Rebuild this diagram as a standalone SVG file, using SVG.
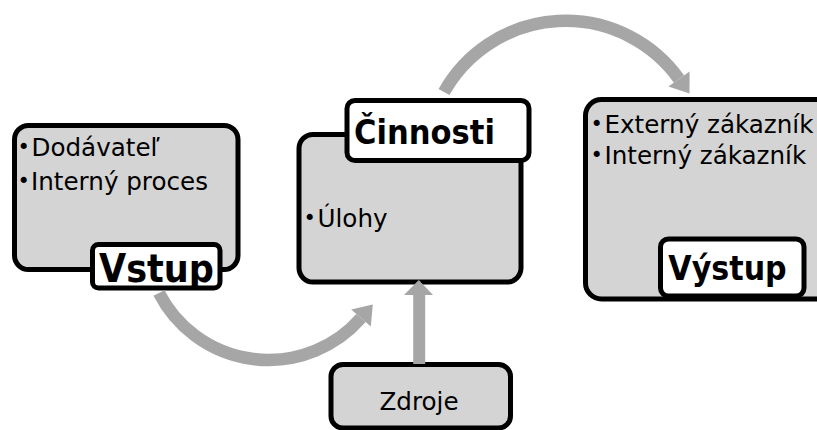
<svg xmlns="http://www.w3.org/2000/svg" width="817" height="430" viewBox="0 0 817 430">
  <defs>
    <style>
      .panel { fill: #d4d4d4; stroke: #000; stroke-width: 5; }
      .tag { fill: #fff; stroke: #000; stroke-width: 5; }
      .txt { font-family: "DejaVu Sans", "Liberation Sans", sans-serif; font-size: 24.6px; fill: #000; }
      .dot { font-size: 21px; }
      .head { font-family: "DejaVu Sans Condensed", "DejaVu Sans", "Liberation Sans Narrow", sans-serif; font-stretch: semi-condensed; font-weight: bold; font-size: 34px; fill: #000; text-anchor: middle; }
      .flow { fill: none; stroke: #a6a6a6; stroke-width: 12.5; }
      .tip { fill: #a6a6a6; }
    </style>
  </defs>
  <rect width="817" height="430" fill="#fff"/>

  <!-- Input -->
  <g id="vstup">
    <rect class="panel" x="14.5" y="125.5" width="223.5" height="144" rx="14"/>
    <text class="txt"><tspan class="dot" x="17.5" y="153.5">•</tspan><tspan x="31.5" y="156">Dodávateľ</tspan></text>
    <text class="txt"><tspan class="dot" x="17.5" y="187.5">•</tspan><tspan x="31" y="190">Interný proces</tspan></text>
    <rect class="tag" x="92.5" y="244.5" width="127.5" height="43.5" rx="6"/>
    <text class="head" x="156.5" y="281.5" style="font-size:39px">Vstup</text>
  </g>

  <!-- Activities -->
  <g id="cinnosti">
    <rect class="panel" x="299" y="134.5" width="222" height="147.5" rx="14"/>
    <text class="txt"><tspan class="dot" x="303.5" y="224.5">•</tspan><tspan x="317.5" y="227">Úlohy</tspan></text>
    <rect class="tag" x="347" y="100.5" width="182" height="60" rx="8"/>
    <text class="head" x="424.5" y="143.5">Činnosti</text>
  </g>

  <!-- Output -->
  <g id="vystup">
    <rect class="panel" x="585.5" y="99.5" width="260" height="199.5" rx="16"/>
    <text class="txt"><tspan class="dot" x="590.5" y="130.5">•</tspan><tspan x="604.5" y="133">Externý zákazník</tspan></text>
    <text class="txt"><tspan class="dot" x="590.5" y="161.5">•</tspan><tspan x="604.5" y="164">Interný zákazník</tspan></text>
    <rect class="tag" x="660.5" y="239" width="143.5" height="57" rx="8"/>
    <text class="head" x="727.5" y="279.5" style="font-size:33.5px">Výstup</text>
  </g>

  <!-- Resources -->
  <g id="zdroje">
    <rect class="panel" x="331" y="364.5" width="179.5" height="63.5" rx="12"/>
    <text class="txt" x="419" y="410" text-anchor="middle">Zdroje</text>
  </g>

  <!-- Flow arrows -->
  <g id="connectors">
    <path class="flow" d="M159,293 A123,123 0 0 0 361,318"/>
    <polygon class="tip" points="372.8,304.4 351.2,309.5 370.8,326.5"/>
    <path class="flow" d="M444,92 A139.6,139.6 0 0 1 679,79"/>
    <polygon class="tip" points="689.5,93.6 668.4,86.6 689.6,71.4"/>
    <rect class="tip" x="413.2" y="294" width="12" height="70"/>
    <polygon class="tip" points="418.8,280 404,295 433,295"/>
  </g>
</svg>
